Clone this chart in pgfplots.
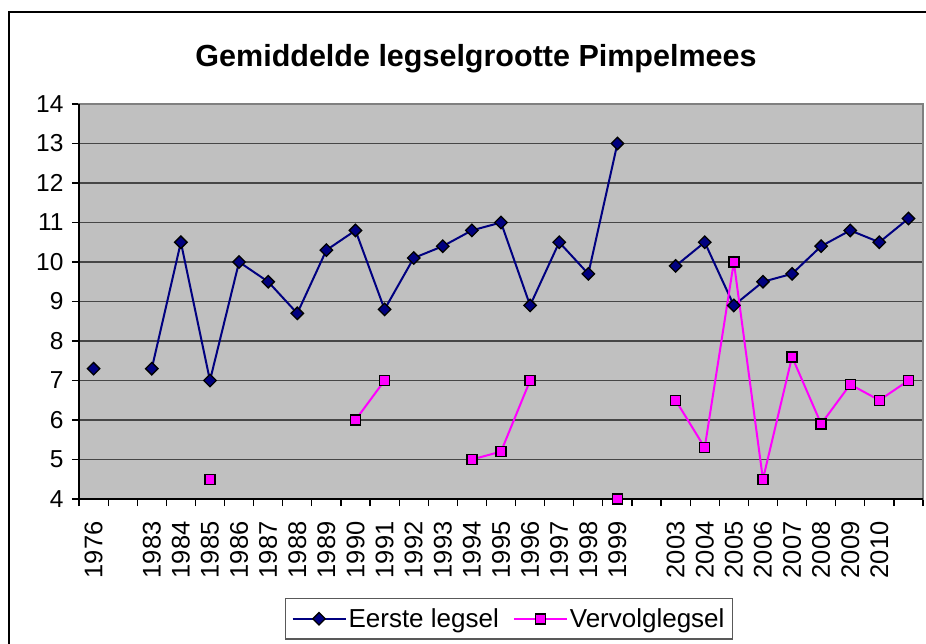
\documentclass[border=0pt]{standalone}
\usepackage{fontspec}
\setmainfont{Liberation Sans}
\usepackage{pgfplots}
\usepackage{pgfplotstable}
\pgfplotsset{compat=1.18}
\definecolor{bggray}{RGB}{192,192,192}
\definecolor{gridgray}{RGB}{70,70,70}
\definecolor{navyc}{RGB}{0,0,128}
\definecolor{magc}{RGB}{255,0,255}
\pgfplotstableread{
x e v
0 7.3 nan
1 nan nan
2 7.3 nan
3 10.5 nan
4 7.0 4.5
5 10.0 nan
6 9.5 nan
7 8.7 nan
8 10.3 nan
9 10.8 6.0
10 8.8 7.0
11 10.1 nan
12 10.4 nan
13 10.8 5.0
14 11.0 5.2
15 8.9 7.0
16 10.5 nan
17 9.7 nan
18 13.0 4.0
19 nan nan
20 9.9 6.5
21 10.5 5.3
22 8.9 10.0
23 9.5 4.5
24 9.7 7.6
25 10.4 5.9
26 10.8 6.9
27 10.5 6.5
28 11.1 7.0
}\data
\begin{document}
\begin{tikzpicture}[x=1pt,y=1pt]
\clip (0,0) rectangle (926,643);
\fill[white] (0,0) rectangle (926,643);
\draw[line width=2.2pt] (9,-5) -- (9,631) -- (935,631);
\node[anchor=base,font=\fontsize{30.5}{36}\selectfont\bfseries] at (476,576) {Gemiddelde legselgrootte Pimpelmees};
\begin{axis}[
  at={(79pt,144pt)}, anchor=south west,
  scale only axis, width=844pt, height=395pt,
  xmin=-0.5, xmax=28.5, ymin=4, ymax=14,
  ytick={4,...,14},
  xtick={-0.5,0.5,...,28.5},
  x tick label as interval,
  xticklabels={1976,,1983,1984,1985,1986,1987,1988,1989,1990,1991,1992,1993,1994,1995,1996,1997,1998,1999,,2003,2004,2005,2006,2007,2008,2009,2010,},
  tick pos=left,
  tick align=outside,
  major tick length=7pt,
  tick style={black, line width=1.2pt},
  ymajorgrids,
  grid style={gridgray, line width=1.3pt},
  axis background/.style={fill=bggray},
  axis line style={draw=gray, line width=1.5pt},
  /pgf/number format/assume math mode=true,
  yticklabel style={font=\fontsize{24.5}{28}\selectfont},
  yticklabel shift=5pt,
  xticklabel style={font=\fontsize{25.5}{28}\selectfont, rotate=90, anchor=east},
  xticklabel shift=12pt,
  unbounded coords=jump,
  clip=false,
  legend style={at={(0.5095,-0.2506)}, anchor=north, legend columns=-1,
    draw=black!65, line width=1.2pt, font=\fontsize{26}{30}\selectfont,
    inner xsep=6pt, inner ysep=8pt,
    /tikz/every even column/.append style={column sep=12pt}},
  legend image code/.code={\draw[mark repeat=2,mark phase=2] plot coordinates {(0pt,0pt) (26.5pt,0pt) (53pt,0pt)};},
]
\draw[black, line width=1.3pt] (rel axis cs:0,1) -- (rel axis cs:0,0) -- (rel axis cs:1,0);
\addplot[navyc, line width=2pt, mark=square*, mark size=4.4pt,
  mark options={rotate=45, fill=navyc, draw=black, line width=1.3pt}] table[x=x,y=e] {\data};
\addlegendentry{Eerste legsel}
\addplot[magc, line width=2pt, mark=square*, mark size=5pt,
  mark options={fill=magc, draw=black, line width=1.5pt}] table[x=x,y=v] {\data};
\addlegendentry{Vervolglegsel}
\end{axis}
\end{tikzpicture}
\end{document}
